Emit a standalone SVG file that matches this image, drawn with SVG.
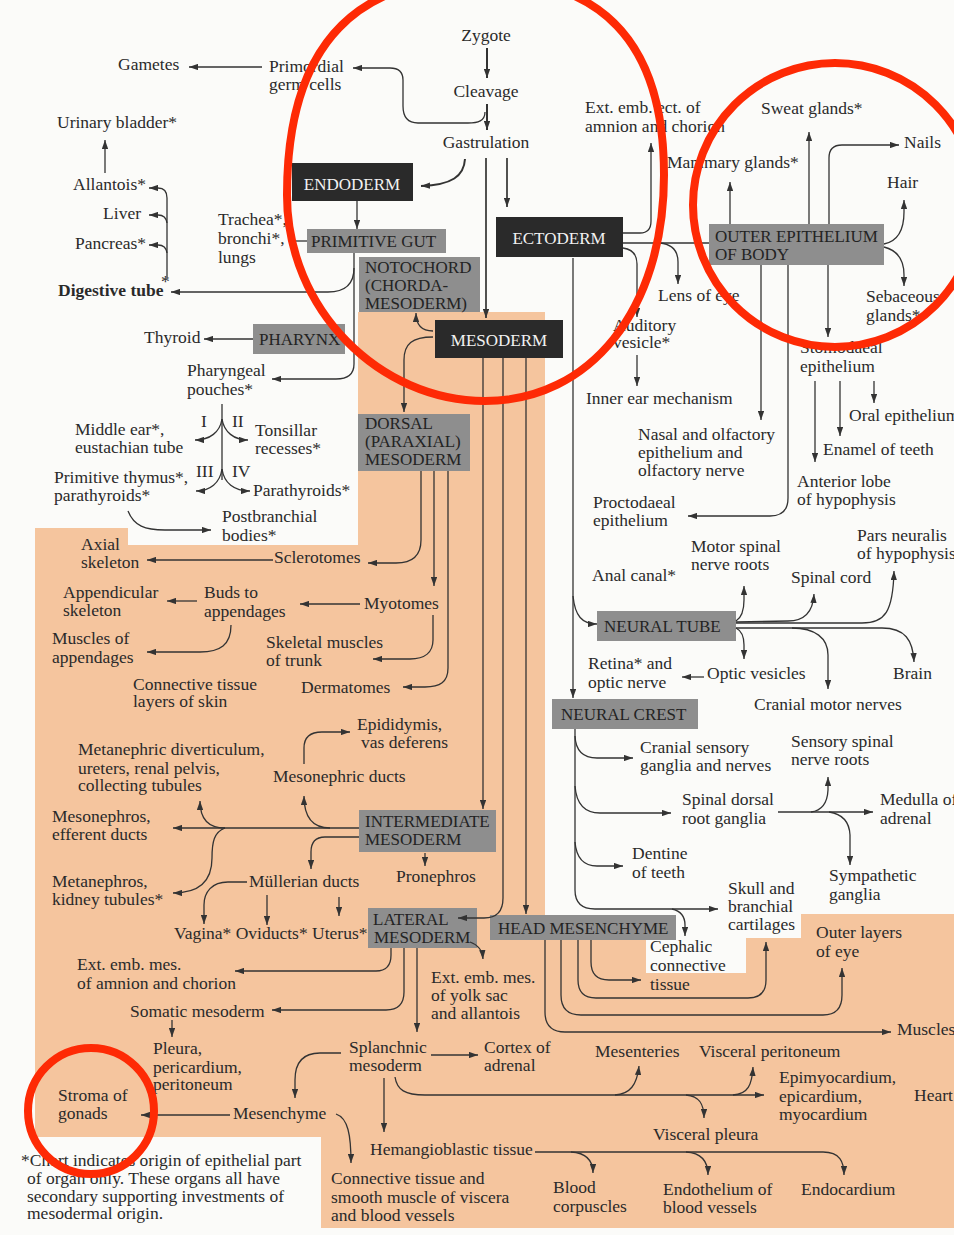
<svg xmlns="http://www.w3.org/2000/svg" width="954" height="1235" viewBox="0 0 954 1235">
<style>
.t{font-family:"Liberation Serif","Times New Roman",serif;font-size:17.5px;fill:#2a2a2a}
.b{font-weight:bold}
.bt{font-family:"Liberation Serif","Times New Roman",serif;font-size:17px;fill:#232323}
.wt{font-family:"Liberation Serif","Times New Roman",serif;font-size:17px;fill:#f2f2f2}
.gb{fill:#8e8e8e}
.db{fill:#2a2a2a}
.c{fill:none;stroke:#333;stroke-width:1.3}
.k{fill:none;stroke:#333;stroke-width:2}
.a{marker-end:url(#ar)}
.red{fill:none;stroke:#fe2a05;stroke-width:8}
</style>
<defs>
<marker id="ar" viewBox="0 0 10 7" refX="10" refY="3.5" markerWidth="9" markerHeight="6.5" markerUnits="userSpaceOnUse" orient="auto"><path d="M0,0 L10,3.5 L0,7 z" fill="#333"/></marker>
</defs>
<rect width="954" height="1235" fill="#fbfbf9"/>
<path d="M358,312 L545,312 L545,915 L676,915 L676,940 L646,940 L646,973 L746,973 L746,938 L801,938 L801,914 L954,914 L954,1228 L321,1228 L321,1137 L35,1137 L35,528 L128,528 L128,545 L358,545 Z" fill="#f5c59e"/>

<g id="zygote"><text class="t" x="486" y="41" text-anchor="middle">Zygote</text></g>
<g id="cleavage"><text class="t" x="486" y="97" text-anchor="middle">Cleavage</text></g>
<g id="gastrulation"><text class="t" x="486" y="148" text-anchor="middle">Gastrulation</text></g>
<g id="gametes"><text class="t" x="118" y="70">Gametes</text></g>
<g id="primordial"><text class="t" x="269" y="72">Primordial</text><text class="t" x="269" y="90">germ cells</text></g>
<g id="urinary"><text class="t" x="57" y="128">Urinary bladder*</text></g>
<g id="allantois"><text class="t" x="146" y="190" text-anchor="end">Allantois*</text></g>
<g id="liver"><text class="t" x="141" y="219" text-anchor="end">Liver</text></g>
<g id="pancreas"><text class="t" x="146" y="249" text-anchor="end">Pancreas*</text></g>
<g id="digestive"><text class="t b" x="58" y="296">Digestive tube</text><text class="t" x="161" y="287">*</text></g>
<g id="trachea"><text class="t" x="218" y="225">Trachea*,</text><text class="t" x="218" y="244">bronchi*,</text><text class="t" x="218" y="263">lungs</text></g>
<g id="endoderm"><rect class="db" x="292" y="163" width="121" height="38"/><text class="wt" x="352" y="190" text-anchor="middle">ENDODERM</text></g>
<g id="primitive-gut"><rect class="gb" x="307" y="229" width="139" height="24"/><text class="bt" x="311" y="247">PRIMITIVE GUT</text></g>
<g id="notochord"><rect class="gb" x="359" y="257" width="121" height="55"/><text class="bt" x="365" y="273">NOTOCHORD</text><text class="bt" x="365" y="291">(CHORDA-</text><text class="bt" x="365" y="309">MESODERM)</text></g>
<g id="ectoderm"><rect class="db" x="496" y="217" width="127" height="40"/><text class="wt" x="559" y="244" text-anchor="middle">ECTODERM</text></g>
<g id="mesoderm"><rect class="db" x="435" y="320" width="128" height="38"/><text class="wt" x="499" y="346" text-anchor="middle">MESODERM</text></g>
<g id="pharynx"><rect class="gb" x="253" y="324" width="92" height="30"/><text class="bt" x="259" y="345">PHARYNX</text></g>
<g id="thyroid"><text class="t" x="144" y="343">Thyroid</text></g>
<g id="ext-emb-ect"><text class="t" x="585" y="113">Ext. emb. ect. of</text><text class="t" x="585" y="132">amnion and chorion</text></g>
<g id="sweat"><text class="t" x="761" y="114">Sweat glands*</text></g>
<g id="mammary"><text class="t" x="667" y="168">Mammary glands*</text></g>
<g id="nails"><text class="t" x="904" y="148">Nails</text></g>
<g id="hair"><text class="t" x="887" y="188">Hair</text></g>
<g id="outer-epithelium"><rect class="gb" x="709" y="224" width="175" height="41"/><text class="bt" x="715" y="242">OUTER EPITHELIUM</text><text class="bt" x="715" y="260">OF BODY</text></g>
<g id="sebaceous"><text class="t" x="866" y="302">Sebaceous</text><text class="t" x="866" y="321">glands*</text></g>
<g id="lens"><text class="t" x="658" y="301">Lens of eye</text></g>
<g id="auditory"><text class="t" x="613" y="331">Auditory</text><text class="t" x="613" y="348">vesicle*</text></g>
<g id="inner-ear"><text class="t" x="586" y="404">Inner ear mechanism</text></g>
<g id="stomodaeal"><text class="t" x="800" y="353">Stomodaeal</text><text class="t" x="800" y="372">epithelium</text></g>
<g id="oral"><text class="t" x="849" y="421">Oral epithelium</text></g>
<g id="enamel"><text class="t" x="823" y="455">Enamel of teeth</text></g>
<g id="anterior-lobe"><text class="t" x="797" y="487">Anterior lobe</text><text class="t" x="797" y="505">of hypophysis</text></g>
<g id="nasal"><text class="t" x="638" y="440">Nasal and olfactory</text><text class="t" x="638" y="458">epithelium and</text><text class="t" x="638" y="476">olfactory nerve</text></g>
<g id="proctodaeal"><text class="t" x="593" y="508">Proctodaeal</text><text class="t" x="593" y="526">epithelium</text></g>
<g id="motor-spinal"><text class="t" x="691" y="552">Motor spinal</text><text class="t" x="691" y="570">nerve roots</text></g>
<g id="anal"><text class="t" x="592" y="581">Anal canal*</text></g>
<g id="pars-neuralis"><text class="t" x="857" y="541">Pars neuralis</text><text class="t" x="857" y="559">of hypophysis</text></g>
<g id="spinal-cord"><text class="t" x="791" y="583">Spinal cord</text></g>
<g id="neural-tube"><rect class="gb" x="597" y="611" width="139" height="30"/><text class="bt" x="604" y="632">NEURAL TUBE</text></g>
<g id="brain"><text class="t" x="893" y="679">Brain</text></g>
<g id="optic-vesicles"><text class="t" x="707" y="679">Optic vesicles</text></g>
<g id="retina"><text class="t" x="588" y="669">Retina* and</text><text class="t" x="588" y="688">optic nerve</text></g>
<g id="cranial-motor"><text class="t" x="754" y="710">Cranial motor nerves</text></g>
<g id="neural-crest"><rect class="gb" x="552" y="699" width="146" height="30"/><text class="bt" x="561" y="720">NEURAL CREST</text></g>
<g id="cranial-sensory"><text class="t" x="640" y="753">Cranial sensory</text><text class="t" x="640" y="771">ganglia and nerves</text></g>
<g id="sensory-spinal"><text class="t" x="791" y="747">Sensory spinal</text><text class="t" x="791" y="765">nerve roots</text></g>
<g id="spinal-dorsal"><text class="t" x="682" y="805">Spinal dorsal</text><text class="t" x="682" y="824">root ganglia</text></g>
<g id="medulla"><text class="t" x="880" y="805">Medulla of</text><text class="t" x="880" y="824">adrenal</text></g>
<g id="dentine"><text class="t" x="632" y="859">Dentine</text><text class="t" x="632" y="878">of teeth</text></g>
<g id="sympathetic"><text class="t" x="829" y="881">Sympathetic</text><text class="t" x="829" y="900">ganglia</text></g>
<g id="skull"><text class="t" x="728" y="894">Skull and</text><text class="t" x="728" y="912">branchial</text><text class="t" x="728" y="930">cartilages</text></g>
<g id="head-mesenchyme"><rect class="gb" x="490" y="915" width="186" height="25"/><text class="bt" x="498" y="934">HEAD MESENCHYME</text></g>
<g id="cephalic"><text class="t" x="650" y="952">Cephalic</text><text class="t" x="650" y="971">connective</text><text class="t" x="650" y="990">tissue</text></g>
<g id="outer-layers"><text class="t" x="816" y="938">Outer layers</text><text class="t" x="816" y="957">of eye</text></g>
<g id="muscles"><text class="t" x="897" y="1035">Muscles</text></g>
<g id="mesenteries"><text class="t" x="595" y="1057">Mesenteries</text></g>
<g id="visceral-peritoneum"><text class="t" x="699" y="1057">Visceral peritoneum</text></g>
<g id="epimyocardium"><text class="t" x="779" y="1083">Epimyocardium,</text><text class="t" x="779" y="1102">epicardium,</text><text class="t" x="779" y="1120">myocardium</text></g>
<g id="heart"><text class="t" x="914" y="1101">Heart</text></g>
<g id="visceral-pleura"><text class="t" x="653" y="1140">Visceral pleura</text></g>
<g id="endothelium"><text class="t" x="663" y="1195">Endothelium of</text><text class="t" x="663" y="1213">blood vessels</text></g>
<g id="endocardium"><text class="t" x="801" y="1195">Endocardium</text></g>
<g id="blood"><text class="t" x="553" y="1193">Blood</text><text class="t" x="553" y="1212">corpuscles</text></g>
<g id="hemangioblastic"><text class="t" x="370" y="1155">Hemangioblastic tissue</text></g>
<g id="connective-viscera"><text class="t" x="331" y="1184">Connective tissue and</text><text class="t" x="331" y="1203">smooth muscle of viscera</text><text class="t" x="331" y="1221">and blood vessels</text></g>
<g id="splanchnic"><text class="t" x="349" y="1053">Splanchnic</text><text class="t" x="349" y="1071">mesoderm</text></g>
<g id="cortex"><text class="t" x="484" y="1053">Cortex of</text><text class="t" x="484" y="1071">adrenal</text></g>
<g id="ext-yolk"><text class="t" x="431" y="983">Ext. emb. mes.</text><text class="t" x="431" y="1001">of yolk sac</text><text class="t" x="431" y="1019">and allantois</text></g>
<g id="ext-amnion"><text class="t" x="77" y="970">Ext. emb. mes.</text><text class="t" x="77" y="989">of amnion and chorion</text></g>
<g id="somatic"><text class="t" x="130" y="1017">Somatic mesoderm</text></g>
<g id="pleura"><text class="t" x="153" y="1054">Pleura,</text><text class="t" x="153" y="1073">pericardium,</text><text class="t" x="153" y="1090">peritoneum</text></g>
<g id="stroma"><text class="t" x="58" y="1101">Stroma of</text><text class="t" x="58" y="1119">gonads</text></g>
<g id="mesenchyme"><text class="t" x="233" y="1119">Mesenchyme</text></g>
<g id="footnote"><text class="t" x="21" y="1166">*Chart indicates origin of epithelial part</text><text class="t" x="27" y="1184">of organ only. These organs all have</text><text class="t" x="27" y="1202">secondary supporting investments of</text><text class="t" x="27" y="1219">mesodermal origin.</text></g>
<g id="lateral-mesoderm"><rect class="gb" x="368" y="908" width="109" height="40"/><text class="bt" x="373" y="925">LATERAL</text><text class="bt" x="374" y="943">MESODERM</text></g>
<g id="vagina-oviducts-uterus"><text class="t" x="174" y="939">Vagina* Oviducts* Uterus*</text></g>
<g id="mullerian"><text class="t" x="249" y="887">Müllerian ducts</text></g>
<g id="pronephros"><text class="t" x="396" y="882">Pronephros</text></g>
<g id="metanephros"><text class="t" x="52" y="887">Metanephros,</text><text class="t" x="52" y="905">kidney tubules*</text></g>
<g id="mesonephros"><text class="t" x="52" y="822">Mesonephros,</text><text class="t" x="52" y="840">efferent ducts</text></g>
<g id="intermediate-mesoderm"><rect class="gb" x="359" y="810" width="137" height="42"/><text class="bt" x="365" y="827">INTERMEDIATE</text><text class="bt" x="365" y="845">MESODERM</text></g>
<g id="metanephric"><text class="t" x="78" y="755">Metanephric diverticulum,</text><text class="t" x="78" y="774">ureters, renal pelvis,</text><text class="t" x="78" y="791">collecting tubules</text></g>
<g id="mesonephric-ducts"><text class="t" x="273" y="782">Mesonephric ducts</text></g>
<g id="epididymis"><text class="t" x="357" y="730">Epididymis,</text><text class="t" x="361" y="748">vas deferens</text></g>
<g id="connective-skin"><text class="t" x="133" y="690">Connective tissue</text><text class="t" x="133" y="707">layers of skin</text></g>
<g id="dermatomes"><text class="t" x="301" y="693">Dermatomes</text></g>
<g id="skeletal-muscles"><text class="t" x="266" y="648">Skeletal muscles</text><text class="t" x="266" y="666">of trunk</text></g>
<g id="muscles-appendages"><text class="t" x="52" y="644">Muscles of</text><text class="t" x="52" y="663">appendages</text></g>
<g id="myotomes"><text class="t" x="364" y="609">Myotomes</text></g>
<g id="buds"><text class="t" x="204" y="598">Buds to</text><text class="t" x="204" y="617">appendages</text></g>
<g id="appendicular"><text class="t" x="63" y="598">Appendicular</text><text class="t" x="63" y="616">skeleton</text></g>
<g id="axial"><text class="t" x="81" y="550">Axial</text><text class="t" x="81" y="568">skeleton</text></g>
<g id="sclerotomes"><text class="t" x="274" y="563">Sclerotomes</text></g>
<g id="dorsal-mesoderm"><rect class="gb" x="358" y="414" width="112" height="57"/><text class="bt" x="365" y="429">DORSAL</text><text class="bt" x="365" y="447">(PARAXIAL)</text><text class="bt" x="365" y="465">MESODERM</text></g>
<g id="postbranchial"><text class="t" x="222" y="522">Postbranchial</text><text class="t" x="222" y="541">bodies*</text></g>
<g id="primitive-thymus"><text class="t" x="54" y="483">Primitive thymus*,</text><text class="t" x="54" y="501">parathyroids*</text></g>
<g id="parathyroids"><text class="t" x="253" y="496">Parathyroids*</text></g>
<g id="middle-ear"><text class="t" x="75" y="435">Middle ear*,</text><text class="t" x="75" y="453">eustachian tube</text></g>
<g id="tonsillar"><text class="t" x="255" y="436">Tonsillar</text><text class="t" x="255" y="454">recesses*</text></g>
<g id="pouch-numbers"><text class="t" x="201" y="427">I</text><text class="t" x="232" y="427">II</text><text class="t" x="196" y="477">III</text><text class="t" x="232" y="477">IV</text></g>
<g id="pharyngeal-pouches"><text class="t" x="187" y="376">Pharyngeal</text><text class="t" x="187" y="395">pouches*</text></g>

<g id="connectors">
<path class="k a" d="M487,48 L487,78"/>
<path class="k a" d="M487,104 L487,130"/>
<path class="c a" d="M485,112 C485,121 478,123 468,123 L418,123 C407,123 403,117 403,106 L403,80 C403,72 399,68 390,68 L353,68"/>
<path class="c a" d="M262,67 L189,67"/>
<path class="k a" d="M465,159 C464,176 452,185 421,186"/>
<path class="c a" style="stroke-width:1.7" d="M486,158 L486,318"/>
<path class="c a" style="stroke-width:1.7" d="M507,158 L507,207"/>
<path class="c a" d="M357,201 L357,229"/>
<path class="c" d="M307,241 L289,241"/>
<path class="c a" d="M354,253 L354,364 C354,375 347,379 336,379 L272,379"/>
<path class="c a" d="M354,268 C354,285 345,292 328,292 L171,292"/>
<path class="c a" d="M253,339 L204,339"/>
<path class="c a" d="M167,278 L167,198 Q167,188 158,188 L149,188"/>
<path class="c a" d="M167,223 Q166,215 158,215 L149,215"/>
<path class="c a" d="M167,253 Q166,245 158,245 L149,245"/>
<path class="c a" d="M105,173 L105,140"/>
<path class="c a" d="M433,331 C422,331 416,326 416,313"/>
<path class="c a" d="M433,337 C412,337 404,344 404,360 L404,412"/>
<path class="c a" d="M483,358 L483,809"/>
<path class="c a" d="M503,358 L503,898 Q503,918 484,918 L458,918"/>
<path class="c a" d="M526,358 L526,914"/>
<path class="c a" d="M573,258 L573,698"/>
<path class="c a" d="M573,596 C575,616 582,624 597,624"/>
<path class="c a" d="M623,233 L640,233 Q651,233 651,221 L651,143"/>
<path class="c" d="M623,243 L709,243"/>
<path class="c a" d="M660,243 Q678,245 678,262 L678,284"/>
<path class="c a" d="M623,248 Q637,250 637,264 L637,317"/>
<path class="c a" d="M637,355 L637,386"/>
<path class="c a" d="M730,224 L730,182"/>
<path class="c a" d="M809,224 L809,132"/>
<path class="c a" d="M829,224 L829,158 Q829,145 842,145 L899,145"/>
<path class="c a" d="M884,244 Q904,240 904,212 L904,200"/>
<path class="c a" d="M884,247 Q904,252 904,275 L904,286"/>
<path class="c a" d="M761,265 L761,420"/>
<path class="c a" d="M788,265 L788,498 Q788,516 770,516 L688,516"/>
<path class="c a" d="M828,265 L828,337"/>
<path class="c a" d="M815,381 L815,462"/>
<path class="c a" d="M840,381 L840,436"/>
<path class="c a" d="M874,381 L874,403"/>
<path class="c a" d="M736,621 Q744,616 744,600 L744,586"/>
<path class="c a" d="M736,622 L788,621 C805,621 813,612 814,594"/>
<path class="c a" d="M736,623 L862,623 C885,623 893,612 894,571"/>
<path class="c a" d="M736,628 Q744,632 744,645 L744,659"/>
<path class="c a" d="M736,628 L882,628 C905,628 913,640 914,662"/>
<path class="c a" d="M792,628 C815,628 828,638 828,655 L828,689"/>
<path class="c a" d="M704,677 L682,677"/>
<path class="c a" d="M575,729 L575,890 Q575,909 595,909 L718,909"/>
<path class="c a" d="M575,736 Q576,758 597,758 L633,758"/>
<path class="c a" d="M575,786 Q577,813 600,813 L671,813"/>
<path class="c a" d="M575,842 Q577,866 597,866 L623,866"/>
<path class="c a" d="M672,909 Q685,912 685,925 L685,936"/>
<path class="c a" d="M811,812 Q827,810 828,790 L828,777"/>
<path class="c a" d="M778,812 L873,812"/>
<path class="c a" d="M829,812 Q849,815 850,835 L850,865"/>
<path class="c a" d="M591,940 L591,962 Q591,980 609,980 L641,980"/>
<path class="c a" d="M578,940 L578,980 Q578,998 596,998 L748,998 Q766,998 766,980 L766,942"/>
<path class="c a" d="M561,940 L561,995 Q561,1015 581,1015 L823,1015 Q842,1015 842,995 L842,968"/>
<path class="c a" d="M545,940 L545,1012 Q545,1032 565,1032 L891,1032"/>
<path class="c a" d="M470,942 Q482,946 483,959"/>
<path class="c a" d="M417,948 L417,1032"/>
<path class="c a" d="M404,948 L404,992 Q404,1010 386,1010 L272,1010"/>
<path class="c a" d="M391,948 L391,955 Q391,971 376,971 L235,971"/>
<path class="c a" d="M172,1020 L172,1037"/>
<path class="c a" d="M431,1055 L478,1055"/>
<path class="c a" d="M341,1053 L320,1053 C303,1053 295,1062 295,1080 L295,1098"/>
<path class="c a" d="M230,1115 L141,1115"/>
<path class="c a" d="M336,1114 C348,1118 351,1135 351,1163"/>
<path class="c a" d="M384,1078 L384,1132"/>
<path class="c a" d="M395,1077 C397,1090 405,1095 425,1095 L764,1095"/>
<path class="c a" d="M615,1095 C630,1094 637,1085 639,1066"/>
<path class="c a" d="M733,1095 C748,1094 752,1085 753,1067"/>
<path class="c a" d="M686,1095 C700,1096 704,1105 704,1118"/>
<path class="c a" d="M535,1152 L823,1152 C840,1152 844,1162 844,1175"/>
<path class="c a" d="M571,1152 C588,1153 593,1162 593,1173"/>
<path class="c a" d="M686,1152 C703,1153 708,1163 708,1175"/>
<path class="c a" d="M359,828 L173,828"/>
<path class="c a" d="M225,828 C207,828 200,818 200,801"/>
<path class="c a" d="M330,828 C311,828 304,816 304,796"/>
<path class="c a" d="M304,764 L304,748 C304,737 310,732 322,732 L350,732"/>
<path class="c a" d="M359,837 L325,837 C315,837 311,843 311,852 L311,869"/>
<path class="c a" d="M225,828 C214,832 212,842 212,858 C212,880 200,893 173,893"/>
<path class="c a" d="M247,882 L228,882 C212,882 204,892 204,905 L204,924"/>
<path class="c a" d="M267,895 L267,925"/>
<path class="c a" d="M339,897 L339,916"/>
<path class="c a" d="M425,853 L425,866"/>
<path class="c a" d="M421,471 L421,540 C421,556 412,563 396,563 L368,563"/>
<path class="c a" d="M273,560 L147,560"/>
<path class="c a" d="M434,471 L434,586"/>
<path class="c a" d="M360,604 L300,604"/>
<path class="c a" d="M197,601 L167,601"/>
<path class="c a" d="M231,625 C231,645 220,652 200,652 L147,652"/>
<path class="c a" d="M433,615 L433,640 C433,652 425,659 410,659 L373,659"/>
<path class="c a" d="M448,471 L448,668 C448,682 440,687 425,687 L403,687"/>
<path class="c" d="M222,404 L222,480"/>
<path class="c a" d="M222,419 C220,432 210,440 195,440"/>
<path class="c a" d="M222,419 C224,432 234,440 248,440"/>
<path class="c a" d="M222,469 C220,483 210,491 196,491"/>
<path class="c a" d="M222,469 C224,483 234,491 250,491"/>
<path class="c a" d="M128,511 C134,526 145,530 165,530 L211,530"/>
</g>

<g id="annotations">
<path class="red" d="M480,-22 C600,-22 664,40 664,175 C664,310 590,401 485,401 C380,401 287,310 287,195 C287,40 360,-22 480,-22 Z"/>
<circle class="red" cx="835" cy="205" r="142"/>
<circle class="red" cx="91" cy="1111" r="63"/>
</g>
</svg>
